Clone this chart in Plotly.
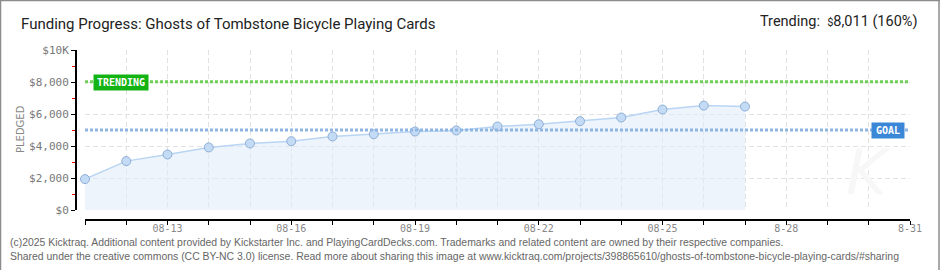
import plotly.graph_objects as go

# ---- data ----
dates = ["2025-08-11", "2025-08-12", "2025-08-13", "2025-08-14", "2025-08-15",
         "2025-08-16", "2025-08-17", "2025-08-18", "2025-08-19", "2025-08-20",
         "2025-08-21", "2025-08-22", "2025-08-23", "2025-08-24", "2025-08-25",
         "2025-08-26", "2025-08-27"]
pledged = [1930, 3055, 3470, 3910, 4160, 4300, 4595, 4740, 4905, 4970,
           5220, 5360, 5550, 5780, 6280, 6525, 6465]
goal = 5000
trending = 8011
x_start = "2025-08-11"
x_end = "2025-08-31"
tick_days = ["2025-08-%02d" % d for d in range(11, 32)]
tick_label_map = {"2025-08-13": "08-13", "2025-08-16": "08-16", "2025-08-19": "08-19",
                  "2025-08-22": "08-22", "2025-08-25": "08-25", "2025-08-28": "8-28",
                  "2025-08-31": "8-31"}
y_tickvals = [0, 2000, 4000, 6000, 8000, 10000]
y_ticktext = ["$0", "$2,000", "$4,000", "$6,000", "$8,000", "$10K"]
y_minor = [1000, 3000, 5000, 7000, 9000]

# ---- geometry helpers (pixel -> paper) ----
W, H = 940, 270
ML, MR, MT, MB = 70, 30, 45, 45
PW, PH = W - ML - MR, H - MT - MB


def px(x):
    return (x - ML) / PW


def py(y):
    return (H - MB - y) / PH


fig = go.Figure()

fig.add_trace(go.Scatter(
    x=dates, y=pledged, mode="lines+markers",
    line=dict(color="#b9d5f3", width=1.5),
    fill="tozeroy", fillcolor="rgba(222,235,250,0.55)",
    marker=dict(size=9, color="#c4dbf5", line=dict(color="#8eaed4", width=1)),
    cliponaxis=False,
    hoverinfo="x+y", showlegend=False,
))

# goal / trending lines
fig.add_trace(go.Scatter(
    x=[x_start, x_end], y=[trending, trending], mode="lines",
    line=dict(color="#6fcf57", width=3, dash="3px,2px"), showlegend=False, hoverinfo="skip"))
fig.add_trace(go.Scatter(
    x=[x_start, x_end], y=[goal, goal], mode="lines",
    line=dict(color="#8fb5e3", width=3, dash="3px,2px"), showlegend=False, hoverinfo="skip"))

ticktext = [tick_label_map.get(d, "") for d in tick_days]

fig.update_layout(
    width=W, height=H,
    margin=dict(l=ML, r=MR, t=MT, b=MB),
    paper_bgcolor="white", plot_bgcolor="white",
    xaxis=dict(
        type="date", range=[x_start, x_end],
        domain=[px(85), 1.0], anchor="free", position=py(220),
        tickmode="array", tickvals=tick_days, ticktext=ticktext,
        showgrid=True, gridcolor="#e2e2e2", gridwidth=1, griddash="5px,3px",
        showline=True, linecolor="black", linewidth=2,
        ticks="outside", ticklen=4, tickcolor="black", tickwidth=1,
        ticklabelstandoff=-5,
        tickfont=dict(family="DejaVu Sans Mono", size=10, color="#888888"),
        zeroline=False, fixedrange=True,
    ),
    yaxis=dict(
        range=[0, 10000], domain=[py(210), py(50)],
        anchor="free", position=px(76),
        tickmode="array", tickvals=y_tickvals, ticktext=y_ticktext,
        showgrid=True, gridcolor="#e2e2e2", gridwidth=1, griddash="5px,3px",
        showline=True, linecolor="black", linewidth=2,
        ticks="outside", ticklen=4, tickcolor="black", tickwidth=1,
        minor=dict(tickvals=y_minor, ticks="outside", ticklen=3, tickcolor="red", tickwidth=1, showgrid=False),
        tickfont=dict(family="DejaVu Sans Mono", size=11, color="#777777"),
        zeroline=False, fixedrange=True,
    ),
)

annotations = [
    dict(text="Funding Progress: Ghosts of Tombstone Bicycle Playing Cards",
         x=px(19), y=py(24), xanchor="left", yanchor="middle",
         font=dict(family="Roboto", size=15, color="#222222")),
    dict(text="Trending:  <span style='font-size:11px'>$</span>8,011 (160%)",
         x=px(919), y=py(21), xanchor="right", yanchor="middle",
         font=dict(family="Roboto", size=14.5, color="#222222")),
    dict(text="PLEDGED", x=px(20), y=py(129), textangle=-90,
         xanchor="center", yanchor="middle",
         font=dict(family="DejaVu Sans", size=10, color="#888888")),
    dict(text="<b>TRENDING</b>", x=px(121), y=py(82), xanchor="center", yanchor="middle",
         bgcolor="#13b313", borderpad=2, width=50,
         font=dict(family="DejaVu Sans Mono", size=10, color="white")),
    dict(text="<b>GOAL</b>", x=px(888), y=py(130), xanchor="center", yanchor="middle",
         bgcolor="#3a87d7", borderpad=2, width=28,
         font=dict(family="DejaVu Sans Mono", size=10, color="white")),
    dict(text="<i>K</i>", x=px(868), y=py(172), xanchor="center", yanchor="middle",
         font=dict(family="DejaVu Sans", size=62, color="#f7f7f7")),
    dict(text="(c)2025 Kicktraq. Additional content provided by Kickstarter Inc. and PlayingCardDecks.com. Trademarks and related content are owned by their respective companies.",
         x=px(8), y=py(242), xanchor="left", yanchor="middle",
         font=dict(family="Liberation Sans", size=10.45, color="#666666")),
    dict(text="Shared under the creative commons (CC BY-NC 3.0) license. Read more about sharing this image at www.kicktraq.com/projects/398865610/ghosts-of-tombstone-bicycle-playing-cards/#sharing",
         x=px(8), y=py(256), xanchor="left", yanchor="middle",
         font=dict(family="Liberation Sans", size=10.45, color="#666666")),
]
for a in annotations:
    a.setdefault("xref", "paper")
    a.setdefault("yref", "paper")
    a.setdefault("showarrow", False)
fig.update_layout(annotations=annotations)

# frame
border = dict(color="#8c8c8c", width=1.5)
fig.add_shape(type="line", xref="paper", yref="paper", x0=px(0.5), x1=px(0.5), y0=py(0), y1=py(270), line=border)
fig.add_shape(type="line", xref="paper", yref="paper", x0=px(0), x1=px(940), y0=py(0.5), y1=py(0.5), line=border)
fig.add_shape(type="line", xref="paper", yref="paper", x0=px(939), x1=px(939), y0=py(0), y1=py(270), line=border)

fig.write_html("out.html")
